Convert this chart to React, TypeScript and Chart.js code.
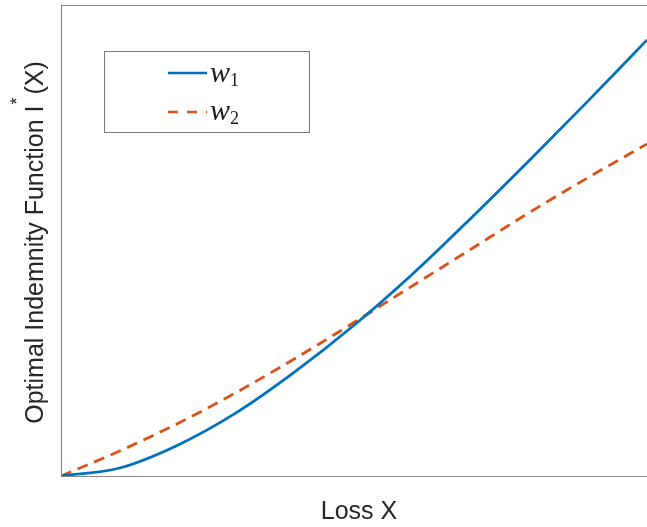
import React, { useEffect, useRef } from "react";
import { Chart, registerables } from "chart.js";

Chart.register(...registerables);

const lossX = [0, 1, 2, 3, 4, 5, 6, 7, 8, 9, 10];
const w1Values = [0, 1.7, 6.6, 13.5, 22.2, 32.0, 42.9, 54.8, 67.1, 79.7, 92.6];
const w2Values = [0, 5.3, 11.2, 17.8, 25.0, 32.6, 40.4, 48.2, 56.0, 63.4, 70.5];
const legendLabels = ["1", "2"];
const xTitle = "Loss X";
const yTitleMain = "Optimal Indemnity Function I";
const yTitleTail = "(X)";

const BLUE = "#0072BD";
const ORANGE = "#D95319";
const AXIS = "#8a8a8a";
const FONT = '"Liberation Sans", Arial, Helvetica, sans-serif';

const decorPlugin = {
  id: "decor",
  afterDraw(chart: any) {
    const { ctx, chartArea } = chart;
    const { left, top, right, bottom } = chartArea;
    ctx.save();
    ctx.strokeStyle = AXIS;
    ctx.lineWidth = 1.2;
    ctx.beginPath();
    ctx.moveTo(right + 1, top + 0.5);
    ctx.lineTo(left + 0.5, top + 0.5);
    ctx.lineTo(left + 0.5, bottom + 0.5);
    ctx.lineTo(right + 1, bottom + 0.5);
    ctx.stroke();

    ctx.fillStyle = "#262626";
    ctx.font = `25px ${FONT}`;
    ctx.textAlign = "center";
    ctx.textBaseline = "alphabetic";
    ctx.fillText(xTitle, (left + right) / 2 + 5, 519);

    ctx.save();
    ctx.translate(43, (top + bottom) / 2 + 2);
    ctx.rotate(-Math.PI / 2);
    ctx.font = `25px ${FONT}`;
    const wMain = ctx.measureText(yTitleMain).width;
    const wTail = ctx.measureText(yTitleTail).width;
    ctx.font = `18px ${FONT}`;
    const wStar = ctx.measureText("*").width;
    const gap1 = 1;
    const gap2 = 3;
    const total = wMain + gap1 + wStar + gap2 + wTail;
    let x = -total / 2;
    ctx.textAlign = "left";
    ctx.font = `25px ${FONT}`;
    ctx.fillText(yTitleMain, x, 0);
    x += wMain + gap1;
    ctx.font = `18px ${FONT}`;
    ctx.fillText("*", x, -20);
    x += wStar + gap2;
    ctx.font = `25px ${FONT}`;
    ctx.fillText(yTitleTail, x, 0);
    ctx.restore();

    const bx = 104.5, by = 51.5, bw = 205, bh = 81;
    ctx.fillStyle = "#ffffff";
    ctx.fillRect(bx, by, bw, bh);
    ctx.strokeStyle = "#7a7a7a";
    ctx.lineWidth = 1;
    ctx.strokeRect(bx, by, bw, bh);

    const rows = [
      { y: 73, color: BLUE, dash: [] as number[], label: legendLabels[0] },
      { y: 112, color: ORANGE, dash: [10, 9], label: legendLabels[1] },
    ];
    rows.forEach((r, i) => {
      ctx.strokeStyle = r.color;
      ctx.lineWidth = 2.5;
      ctx.setLineDash(r.dash);
      ctx.beginPath();
      ctx.moveTo(168, r.y);
      ctx.lineTo(207, r.y);
      ctx.stroke();
      ctx.setLineDash([]);
      ctx.fillStyle = "#1a1a1a";
      ctx.font = `italic 30px "Liberation Serif", "DejaVu Serif", serif`;
      ctx.textAlign = "left";
      const base = i === 0 ? 82 : 120;
      ctx.fillText("w", 210, base);
      ctx.font = `18px "Liberation Serif", "DejaVu Serif", serif`;
      ctx.fillText(r.label, 230, base + 4);
    });
    ctx.restore();
  },
};

export default function App() {
  const ref = useRef<HTMLCanvasElement | null>(null);
  useEffect(() => {
    if (!ref.current) return;
    const chart = new Chart(ref.current, {
      type: "line",
      data: {
        datasets: [
          {
            label: "w1",
            data: lossX.map((x, i) => ({ x, y: w1Values[i] })),
            borderColor: BLUE,
            borderWidth: 2.8,
            pointRadius: 0,
            cubicInterpolationMode: "monotone",
            fill: false,
          },
          {
            label: "w2",
            data: lossX.map((x, i) => ({ x, y: w2Values[i] })),
            borderColor: ORANGE,
            borderWidth: 2.8,
            borderDash: [11, 7],
            pointRadius: 0,
            cubicInterpolationMode: "monotone",
            fill: false,
          },
        ],
      },
      options: {
        animation: false,
        responsive: false,
        maintainAspectRatio: false,
        layout: { padding: { left: 61, top: 5, right: 0, bottom: 51 } },
        plugins: { legend: { display: false }, tooltip: { enabled: false } },
        scales: {
          x: { type: "linear", min: 0, max: 10, display: false },
          y: { type: "linear", min: 0, max: 100, display: false },
        },
      },
      plugins: [decorPlugin],
    });
    return () => chart.destroy();
  }, []);
  return (
    <div style={{ position: "fixed", left: 0, top: 0, width: 647, height: 527, background: "#fff" }}>
      <canvas ref={ref} width={647} height={527} style={{ display: "block" }} />
    </div>
  );
}
